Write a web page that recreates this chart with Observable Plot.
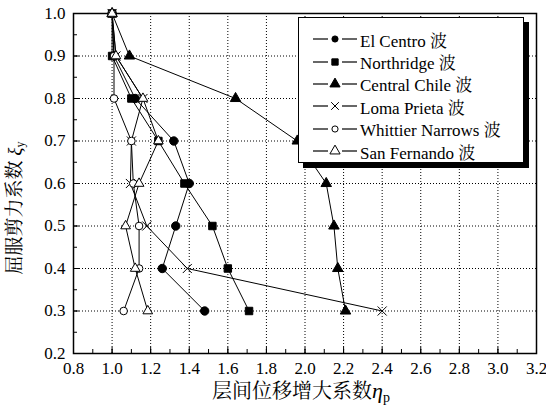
<!DOCTYPE html>
<html><head><meta charset="utf-8">
<script src="https://cdn.jsdelivr.net/npm/d3@7"></script>
<script src="https://cdn.jsdelivr.net/npm/@observablehq/plot@0.6"></script>
<style>
body{margin:0;background:#fff;}
#wrap{position:relative;width:546px;height:411px;}
#legend{position:absolute;left:298px;top:17px;width:226px;height:146px;background:#fff;border:1px solid #000;box-shadow:5px 5px 0 #000;box-sizing:border-box;padding-top:10px;}
.row{height:22.4px;display:flex;align-items:center;font-size:17px;color:#000;white-space:nowrap;}
.row svg{margin-left:14px;margin-right:3px;}
</style></head>
<body><div id="wrap"></div>
<script>
const levels = [1.0, 0.9, 0.8, 0.7, 0.6, 0.5, 0.4, 0.3];
const seriesNames = ["El Centro 波", "Northridge 波", "Central Chile 波", "Loma Prieta 波", "Whittier Narrows 波", "San Fernando 波"];
const elCentro     = [1.0, 1.01, 1.12, 1.32, 1.40, 1.33, 1.26, 1.48];
const northridge   = [1.0, 1.00, 1.10, 1.24, 1.375, 1.52, 1.60, 1.71];
const centralChile = [1.0, 1.09, 1.64, 1.96, 2.11, 2.15, 2.17, 2.21];
const lomaPrieta   = [1.0, 1.02, 1.16, 1.10, 1.095, 1.18, 1.39, 2.40];
const whittier     = [1.0, 1.01, 1.01, 1.10, 1.11, 1.14, 1.14, 1.06];
const sanFernando  = [1.0, 1.02, 1.16, 1.24, 1.14, 1.07, 1.12, 1.185];
const xTicks = [0.8, 1.0, 1.2, 1.4, 1.6, 1.8, 2.0, 2.2, 2.4, 2.6, 2.8, 3.0, 3.2];
const yTicks = [0.2, 0.3, 0.4, 0.5, 0.6, 0.7, 0.8, 0.9, 1.0];

const FONT = "'Liberation Serif','Times New Roman','Noto Serif CJK SC','Noto Sans CJK SC',serif";
const symbols = ["circle", "square", "triangle", "times", "circle", "triangle"];
const fills = ["#000", "#000", "#000", "none", "#fff", "#fff"];
const radii = [4.2, 4.2, 3.9, 4.2, 3.8, 3.6];
const allValues = [elCentro, northridge, centralChile, lomaPrieta, whittier, sanFernando];
const data = [];
allValues.forEach((vals, s) => vals.forEach((v, i) => data.push({series: seriesNames[s], s, x: v, y: levels[i]})));

const xMinor = d3.range(8, 33).map(d => d / 10);
const yMinor = d3.range(4, 21).map(d => d / 20);
const gridX = xTicks.slice(1, -1), gridY = yTicks.slice(1, -1);

const chart = Plot.plot({
  width: 546, height: 411,
  marginLeft: 73, marginRight: 10, marginTop: 13, marginBottom: 58,
  style: {fontSize: "17px", color: "#000", background: "#fff"},
  x: {domain: [0.8, 3.2], label: null},
  y: {domain: [0.2, 1.0], label: null},
  marks: [
    Plot.gridX(gridX, {stroke: "#000", strokeOpacity: 1, strokeWidth: 1, strokeDasharray: "1,2"}),
    Plot.gridY(gridY, {stroke: "#000", strokeOpacity: 1, strokeWidth: 1, strokeDasharray: "1,2"}),
    Plot.axisX(xMinor, {tickSize: -4, text: null, strokeWidth: 1, label: null}),
    Plot.axisX(xTicks, {tickSize: -6, text: null, strokeWidth: 1, label: null}),
    Plot.axisX(xTicks, {tickSize: 0, tickPadding: 8, tickFormat: d3.format(".1f"), fontSize: 17, label: null}),
    Plot.axisY(yMinor, {tickSize: -4, text: null, strokeWidth: 1, label: null}),
    Plot.axisY(yTicks, {tickSize: -6, text: null, strokeWidth: 1, label: null}),
    Plot.axisY(yTicks, {tickSize: 0, tickPadding: 8, tickFormat: d3.format(".1f"), fontSize: 17, label: null}),
    Plot.frame({stroke: "#000", strokeWidth: 1.5}),
    Plot.line(data, {x: "x", y: "y", z: "series", stroke: "#000", strokeWidth: 1}),
    ...symbols.map((sym, s) => Plot.dot(data.filter(d => d.s === s), {
      x: "x", y: "y", symbol: () => sym, r: radii[s],
      fill: fills[s], stroke: "#000", strokeWidth: 1
    }))
  ]
});

const svg = d3.select(chart);
svg.append("text").attr("x", 301).attr("y", 398).attr("text-anchor", "middle")
  .attr("font-size", 20).attr("fill", "#000")
  .call(t => {
    t.append("tspan").text("层间位移增大系数");
    t.append("tspan").attr("font-style", "italic").attr("font-size", 22).text("η");
    t.append("tspan").attr("font-size", 14).attr("dy", 4).text("p");
  });
svg.append("text").attr("transform", "translate(21,208) rotate(-90)").attr("text-anchor", "middle")
  .attr("font-size", 19).attr("fill", "#000")
  .call(t => {
    t.append("tspan").text("屈服剪力系数 ");
    t.append("tspan").attr("font-style", "italic").attr("font-size", 19).text("ξ");
    t.append("tspan").attr("font-size", 12).attr("dy", 3).text("y");
  });
svg.style("font-family", FONT);
svg.selectAll("text, tspan").style("font-family", FONT);

const wrap = document.getElementById("wrap");
wrap.appendChild(chart);

const legend = document.createElement("div");
legend.id = "legend";
const symPath = {
  circle: d3.symbol(d3.symbolCircle, 30)(),
  square: d3.symbol(d3.symbolSquare, 40)(),
  triangle: d3.symbol(d3.symbolTriangle, 45)(),
  times: d3.symbol(d3.symbolTimes, 40)()
};
seriesNames.forEach((name, s) => {
  const row = document.createElement("div");
  row.className = "row";
  row.innerHTML = `<svg width="44" height="14" viewBox="-22 -7 44 14"><line x1="-22" x2="-7" y1="0" y2="0" stroke="#000" stroke-width="1.2"/><line x1="7" x2="22" y1="0" y2="0" stroke="#000" stroke-width="1.2"/><path d="${symPath[symbols[s]]}" fill="${fills[s] === 'none' ? 'none' : fills[s]}" stroke="#000" stroke-width="1"/></svg>`;
  const span = document.createElement("span");
  span.textContent = name;
  span.style.fontFamily = FONT;
  row.appendChild(span);
  legend.appendChild(row);
});
wrap.appendChild(legend);
</script>
</body></html>
